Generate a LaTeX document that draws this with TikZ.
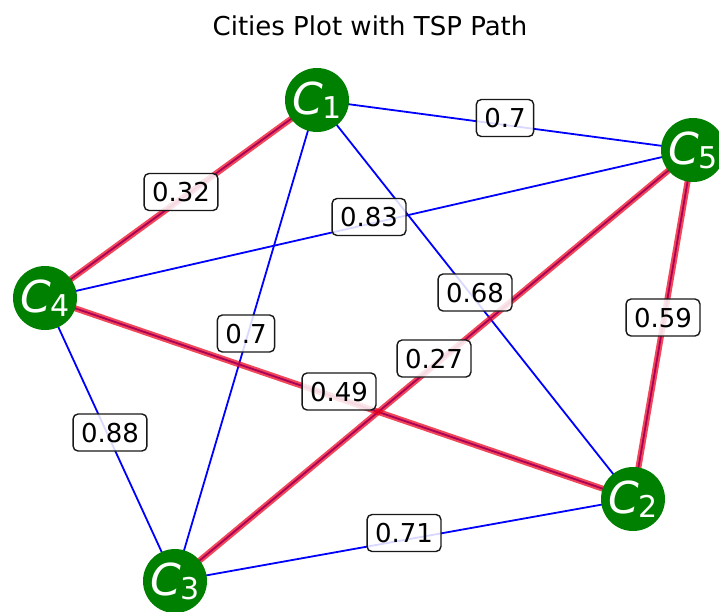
\documentclass[tikz,border=0pt]{standalone}
\usepackage{fontspec}
\setmainfont{DejaVu Sans}
\definecolor{mplgreen}{RGB}{0,128,0}
\definecolor{tourred}{RGB}{235,0,25}
\tikzset{
  city/.style={circle, fill=mplgreen, minimum size=64pt, inner sep=0pt, text=white},
  edgeblue/.style={draw=blue, line width=1.8pt},
  tour/.style={draw=tourred, line width=6pt, opacity=0.72},
  wlabel/.style={draw=black!90, line width=1.4pt, rounded corners=5pt, fill=white, fill opacity=0.85, text opacity=1,
    font=\fontsize{26}{30}\selectfont, text height=19pt, text depth=0pt, inner xsep=8pt, inner ysep=9pt, yshift=7pt}
}
\newcommand{\cityname}[1]{{\fontsize{44}{44}\selectfont\itshape C}\kern0pt\raisebox{-4pt}{\fontsize{30}{30}\selectfont #1}}
\begin{document}
\begin{tikzpicture}[x=1pt,y=-1pt]
\useasboundingbox (0,0) rectangle (719,611);
\node[font=\fontsize{26}{30}\selectfont, anchor=base] (title) at (370,35) {Cities Plot with TSP Path};
\coordinate (p1) at (317,100);
\coordinate (p2) at (633,499);
\coordinate (p3) at (175,581);
\coordinate (p4) at (45,298);
\coordinate (p5) at (693,150);
% blue edges
\draw[edgeblue] (p1) -- (p5);
\draw[edgeblue] (p1) -- (p3);
\draw[edgeblue] (p1) -- (p2);
\draw[edgeblue] (p4) -- (p5);
\draw[edgeblue] (p4) -- (p3);
\draw[edgeblue] (p3) -- (p2);
\draw[edgeblue] (p1) -- (p4);
\draw[edgeblue] (p5) -- (p2);
\draw[edgeblue] (p5) -- (p3);
\draw[edgeblue] (p4) -- (p2);
% tour edges
\draw[tour] (p1) -- (p4);
\draw[tour] (p5) -- (p2);
\draw[tour] (p5) -- (p3);
\draw[tour] (p4) -- (p2);
% labels
\path (p1) -- (p5) node[wlabel, pos=0.5] (l15) {0.7};
\path (p1) -- (p3) node[wlabel, pos=0.5] (l13) {0.7};
\path (p1) -- (p2) node[wlabel, pos=0.5] (l12) {0.68};
\path (p4) -- (p5) node[wlabel, pos=0.5] (l45) {0.83};
\path (p4) -- (p3) node[wlabel, pos=0.5] (l43) {0.88};
\path (p3) -- (p2) node[wlabel, pos=0.5] (l32) {0.71};
\path (p1) -- (p4) node[wlabel, pos=0.5] (l14) {0.32};
\path (p5) -- (p2) node[wlabel, pos=0.5] (l52) {0.59};
\path (p5) -- (p3) node[wlabel, pos=0.5] (l53) {0.27};
\path (p4) -- (p2) node[wlabel, pos=0.5] (l42) {0.49};
% cities
\node[city] (c1) at (p1) {\cityname{1}};
\node[city] (c2) at (p2) {\cityname{2}};
\node[city] (c3) at (p3) {\cityname{3}};
\node[city] (c4) at (p4) {\cityname{4}};
\node[city] (c5) at (p5) {\cityname{5}};
\end{tikzpicture}
\end{document}
